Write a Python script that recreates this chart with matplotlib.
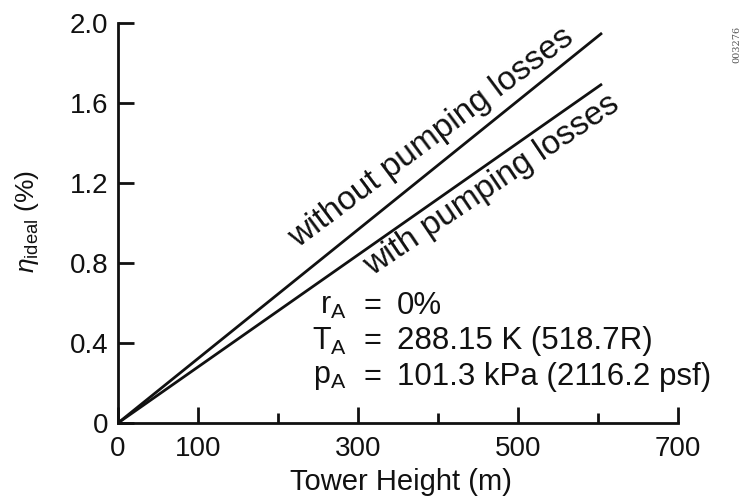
import matplotlib
matplotlib.use("Agg")
import matplotlib.pyplot as plt

plt.rcParams['font.family'] = ['Liberation Sans', 'DejaVu Sans']
plt.rcParams['mathtext.fontset'] = 'custom'
plt.rcParams['mathtext.rm'] = 'Liberation Sans'
plt.rcParams['mathtext.it'] = 'Liberation Sans:italic'

# Data
tower_height = [0, 605]
eta_without_pumping = [0, 1.95]
eta_with_pumping = [0, 1.695]
x_major = [0, 100, 300, 500, 700]
x_minor = [200, 400, 600]
y_ticks = [0, 0.4, 0.8, 1.2, 1.6, 2.0]
y_labels = ['0', '0.4', '0.8', '1.2', '1.6', '2.0']

ink = '#111111'
fig = plt.figure(figsize=(7.43, 4.98), dpi=100)
ax = fig.add_axes([118/743, 75/498, 560/743, 400/498])

ax.plot(tower_height, eta_without_pumping, color=ink, lw=2.0, solid_capstyle='butt')
ax.plot(tower_height, eta_with_pumping, color=ink, lw=2.0, solid_capstyle='butt')

ax.set_xlim(0, 700)
ax.set_ylim(0, 2.0)
for s in ['top', 'right']:
    ax.spines[s].set_visible(False)
for s in ['left', 'bottom']:
    ax.spines[s].set_linewidth(2.0)
    ax.spines[s].set_color(ink)

ax.set_xticks(x_major)
ax.set_xticklabels([str(v) for v in x_major])
ax.set_xticks(x_minor, minor=True)
ax.set_yticks(y_ticks)
ax.set_yticklabels(y_labels)
ax.tick_params(axis='both', which='major', direction='in', length=11.5, width=2.0,
               labelsize=20, colors=ink)
ax.tick_params(axis='x', which='major', pad=9)
ax.tick_params(axis='y', which='major', pad=7)
ax.tick_params(axis='x', which='minor', direction='in', length=7, width=2.0, colors=ink)

ax.text(0.505, -0.1675, 'Tower Height (m)', transform=ax.transAxes, fontsize=21,
        color=ink, ha='center', va='baseline')
ax.text(-0.163, 0.505, r'$\eta_{\mathrm{ideal}}$ (%)', transform=ax.transAxes,
        fontsize=19, color=ink, rotation=90, ha='center', va='center')

ax.text(225, 0.875, 'without pumping losses', rotation=36.8, fontsize=24, color=ink,
        ha='left', va='baseline', rotation_mode='anchor')
ax.text(318, 0.735, 'with pumping losses', rotation=34, fontsize=24, color=ink,
        ha='left', va='baseline', rotation_mode='anchor')

rows = [(0.585, r'r$_\mathrm{A}$', '0%'),
        (0.41, r'T$_\mathrm{A}$', '288.15 K (518.7R)'),
        (0.23, r'p$_\mathrm{A}$', '101.3 kPa (2116.2 psf)')]
for y, lab, val in rows:
    ax.text(286, y, lab, fontsize=22, color=ink, ha='right', va='center')
    ax.text(317.5, y, '=', fontsize=22, color=ink, ha='center', va='center')
    ax.text(349, y, val, fontsize=22.5, color=ink, ha='left', va='center')

fig.text(0.992, 0.91, '003276', rotation=90, fontsize=7, color='#555555',
         family='DejaVu Serif', ha='center', va='center')

fig.savefig('out.png', dpi=100)
